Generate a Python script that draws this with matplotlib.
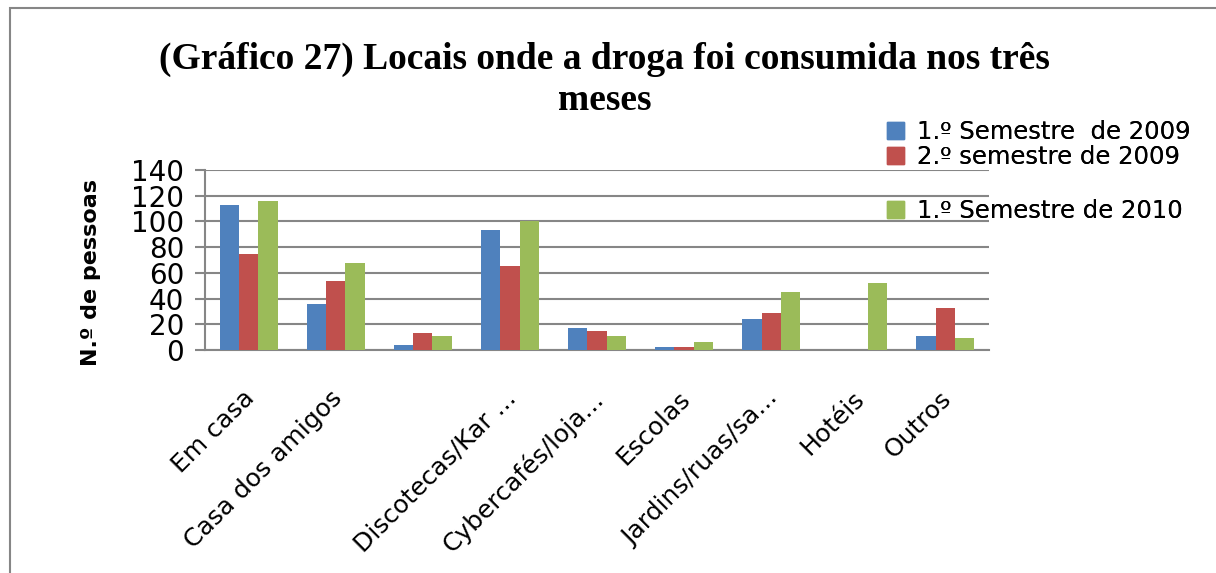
import numpy as np
import matplotlib.pyplot as plt
from matplotlib.patches import Rectangle, Patch
from matplotlib.transforms import ScaledTranslation

# Dados do gráfico
categorias = ['Em casa', 'Casa dos amigos', '', 'Discotecas/Kar ...', 'Cybercafés/loja...',
              'Escolas', 'Jardins/ruas/sa...', 'Hotéis', 'Outros']
series = ['1.º Semestre  de 2009', '2.º semestre de 2009', '1.º Semestre de 2010']
sem1_2009 = [113, 36, 4, 93, 17, 2, 24, 0, 11]
sem2_2009 = [75, 54, 13, 65, 15, 2, 29, 0, 33]
sem1_2010 = [116, 68, 11, 100, 11, 6, 45, 52, 9]
y_ticks = [0, 20, 40, 60, 80, 100, 120, 140]

cores = ['#4F81BD', '#C0504D', '#9BBB59']
cinza = '#868686'

fig = plt.figure(figsize=(12.16, 5.73), dpi=100)
ax = fig.add_axes([205 / 1216, 1 - 350 / 573, (989 - 205) / 1216, 180 / 573])

# Moldura do gráfico
fig.patches.append(Rectangle((10 / 1216, -0.1), 1.2, 1 - 8 / 573 + 0.1, transform=fig.transFigure,
                             fill=False, edgecolor=cinza, linewidth=1.5))

x = np.arange(len(categorias))
w = 1 / 4.5
for i, valores in enumerate([sem1_2009, sem2_2009, sem1_2010]):
    ax.bar(x + (i - 1) * w, valores, width=w, color=cores[i], zorder=3)

ax.set_xlim(-0.5, len(categorias) - 0.5)
ax.set_ylim(0, 140)
ax.set_yticks(y_ticks)
ax.set_yticklabels([str(v) for v in y_ticks], fontsize=20)
ax.yaxis.grid(True, color=cinza, linewidth=1.5, zorder=0)
ax.set_axisbelow(True)
for s in ['top', 'right']:
    ax.spines[s].set_visible(False)
for s in ['left', 'bottom']:
    ax.spines[s].set_color(cinza)
    ax.spines[s].set_linewidth(1.5)
ax.tick_params(axis='y', length=7, color=cinza, width=1.5, pad=8)
ax.tick_params(axis='x', length=0, pad=26)

ax.set_xticks(x)
ax.set_xticklabels(categorias, rotation=45, ha='right', rotation_mode='anchor', fontsize=18)
desloc = ScaledTranslation(-6 / 100, 0, fig.dpi_scale_trans)
for lbl in ax.get_xticklabels():
    lbl.set_transform(lbl.get_transform() + desloc)
ax.set_ylabel('N.º de pessoas', fontsize=16, fontweight='bold')
ax.yaxis.set_label_coords(-0.133, 0.43)

fig.text(0.497, 1 - 80 / 573, '(Gráfico 27) Locais onde a droga foi consumida nos três\nmeses',
         ha='center', va='center', fontsize=27, fontweight='bold', family='Liberation Serif',
         linespacing=1.25)

# Legenda (entradas posicionadas como no original)
legenda_y = [132, 157, 211]
for i, nome in enumerate(series):
    leg = fig.legend(handles=[Patch(color=cores[i])], labels=[nome], loc='center left',
                     bbox_to_anchor=(887 / 1216, 1 - legenda_y[i] / 573), frameon=False,
                     fontsize=17.5, handlelength=0.7, handleheight=0.7, handletextpad=0.55,
                     borderpad=0, borderaxespad=0)
    fig.add_artist(leg)

fig.savefig('out.png', dpi=100)
